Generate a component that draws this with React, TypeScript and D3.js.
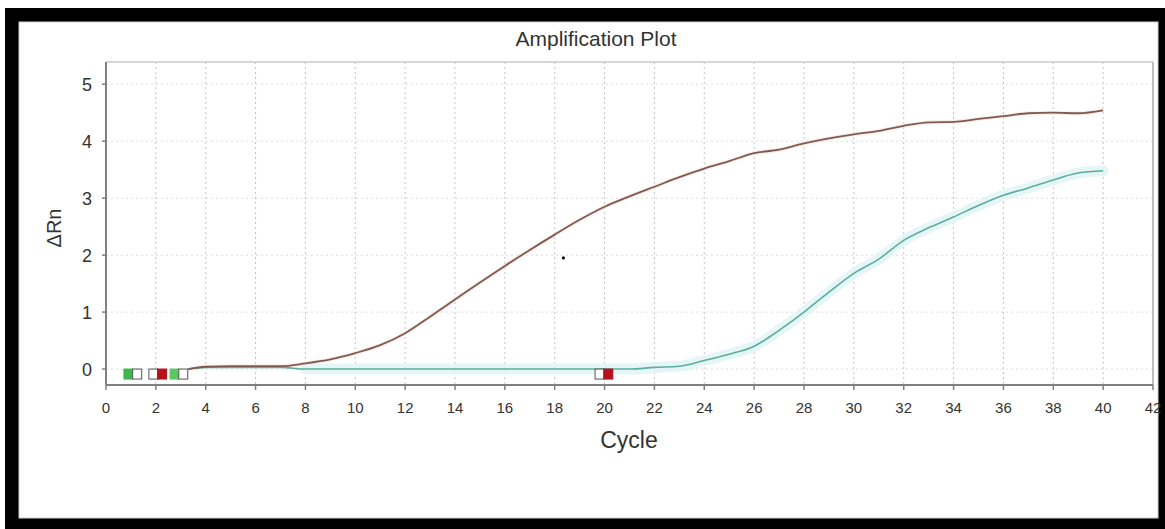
import React from "react";
import * as d3 from "d3";

const cycles = [3.3, 4, 5, 6, 7, 8, 9, 10, 11, 12, 13, 14, 15, 16, 17, 18, 19, 20, 21, 22, 23, 24, 25, 26, 27, 28, 29, 30, 31, 32, 33, 34, 35, 36, 37, 38, 39, 40];
const brownValues = [0.0, 0.04, 0.05, 0.05, 0.05, 0.1, 0.17, 0.28, 0.42, 0.63, 0.92, 1.22, 1.52, 1.81, 2.09, 2.36, 2.62, 2.85, 3.03, 3.2, 3.37, 3.52, 3.65, 3.79, 3.85, 3.96, 4.05, 4.12, 4.18, 4.27, 4.33, 4.34, 4.39, 4.44, 4.49, 4.5, 4.49, 4.54];
const tealValues = [0.0, 0.03, 0.03, 0.03, 0.03, 0.0, 0.0, 0.0, 0.0, 0.0, 0.0, 0.0, 0.0, 0.0, 0.0, 0.0, 0.0, 0.0, 0.0, 0.03, 0.05, 0.15, 0.26, 0.4, 0.68, 1.0, 1.35, 1.68, 1.93, 2.26, 2.48, 2.67, 2.87, 3.05, 3.18, 3.32, 3.44, 3.48];

const xTicks = [0, 2, 4, 6, 8, 10, 12, 14, 16, 18, 20, 22, 24, 26, 28, 30, 32, 34, 36, 38, 40, 42];
const yTicks = [0, 1, 2, 3, 4, 5];

// baseline / threshold markers (cycle, colour)
const markerCycles = [0.9, 1.25, 1.9, 2.25, 2.75, 3.1, 19.8, 20.15];
const markerFills = ["#3cb84a", "#ffffff", "#ffffff", "#b5121b", "#5cc763", "#ffffff", "#ffffff", "#b5121b"];

const strayPoint = { cycle: 18.35, value: 1.95 };

const W = 1165;
const H = 529;
const M = { left: 106, right: 1153, top: 62, bottom: 385 };

export default function App() {
  const x = d3.scaleLinear().domain([0, 42]).range([M.left, M.right]);
  const y = d3.scaleLinear().domain([-0.28, 5.39]).range([M.bottom, M.top]);

  const line = d3
    .line<number>()
    .x((_, i) => x(cycles[i]))
    .y((d) => y(d))
    .curve(d3.curveMonotoneX);

  const brownPath = line(brownValues) || "";
  const tealPath = line(tealValues) || "";
  const tealBandPath =
    d3
      .line<number>()
      .x((_, i) => x(cycles[i + 5]))
      .y((d) => y(d))
      .curve(d3.curveMonotoneX)(tealValues.slice(5)) || "";

  const font = "'Liberation Sans', Arial, sans-serif";

  return (
    <svg
      width={W}
      height={H}
      style={{ position: "absolute", left: 0, top: 0, background: "#fff" }}
      fontFamily={font}
    >
      <rect x={0} y={0} width={W} height={H} fill="#fff" />
      {/* black frame */}
      <rect x={5} y={8} width={W - 5} height={H - 8} fill="#000" />
      <rect x={19} y={22} width={1139} height={496} fill="#fff" stroke="#cfcfcf" strokeWidth={1} />

      {/* title */}
      <text x={596} y={46} fontSize={21} textAnchor="middle" fill="#333">
        Amplification Plot
      </text>

      {/* grid */}
      {xTicks
        .filter((t) => t > 0 && t < 42)
        .map((t) => (
          <line
            key={"gx" + t}
            x1={x(t)}
            x2={x(t)}
            y1={M.top}
            y2={M.bottom}
            stroke="#c4c4c4"
            strokeWidth={1}
            strokeDasharray="2,3"
          />
        ))}
      {yTicks.map((t) => (
        <line
          key={"gy" + t}
          x1={M.left}
          x2={M.right}
          y1={y(t)}
          y2={y(t)}
          stroke="#dcdcdc"
          strokeWidth={1}
          strokeDasharray="2,3"
        />
      ))}

      {/* frame top/right */}
      <line x1={M.left} x2={M.right} y1={M.top} y2={M.top} stroke="#c8c8c8" strokeWidth={1.5} />
      <line x1={M.right} x2={M.right} y1={M.top} y2={M.bottom} stroke="#aaaaaa" strokeWidth={1.5} />

      {/* teal band */}
      <path d={tealBandPath} fill="none" stroke="#e2f5f6" strokeWidth={11} strokeLinecap="round" opacity={0.85} />
      {/* brown halo */}
      <path d={brownPath} fill="none" stroke="#f5e3de" strokeWidth={4} opacity={0.6} />
      {/* curves */}
      <path d={tealPath} fill="none" stroke="#5aae9f" strokeWidth={1.6} />
      <path d={brownPath} fill="none" stroke="#80594f" strokeWidth={1.8} />

      {/* markers */}
      {markerCycles.map((c, i) => (
        <rect
          key={"m" + i}
          x={x(c) - 4.5}
          y={y(0)}
          width={9}
          height={10}
          fill={markerFills[i]}
          stroke={markerFills[i] === "#ffffff" ? "#555" : markerFills[i]}
          strokeWidth={1}
        />
      ))}

      <circle cx={x(strayPoint.cycle)} cy={y(strayPoint.value)} r={1.6} fill="#111" />

      {/* axes */}
      <line x1={M.left} x2={M.left} y1={M.top} y2={M.bottom} stroke="#808080" strokeWidth={2} />
      <line x1={M.left} x2={M.right} y1={M.bottom} y2={M.bottom} stroke="#808080" strokeWidth={2} />

      {yTicks.map((t) => (
        <g key={"yt" + t}>
          <line x1={M.left - 4} x2={M.left} y1={y(t)} y2={y(t)} stroke="#808080" strokeWidth={1.5} />
          <text x={M.left - 14} y={y(t) + 7} fontSize={18} textAnchor="end" fill="#333">
            {t}
          </text>
        </g>
      ))}
      {xTicks.map((t) => (
        <g key={"xt" + t}>
          <line x1={x(t)} x2={x(t)} y1={M.bottom} y2={M.bottom + 5} stroke="#808080" strokeWidth={1.5} />
          <text x={x(t)} y={M.bottom + 28} fontSize={15} textAnchor="middle" fill="#333">
            {t}
          </text>
        </g>
      ))}

      {/* axis titles */}
      <text x={629} y={448} fontSize={23} textAnchor="middle" fill="#333">
        Cycle
      </text>
      <text
        transform={`translate(61, 228) rotate(-90)`}
        fontSize={20}
        textAnchor="middle"
        fill="#333"
      >
        ΔRn
      </text>
    </svg>
  );
}
